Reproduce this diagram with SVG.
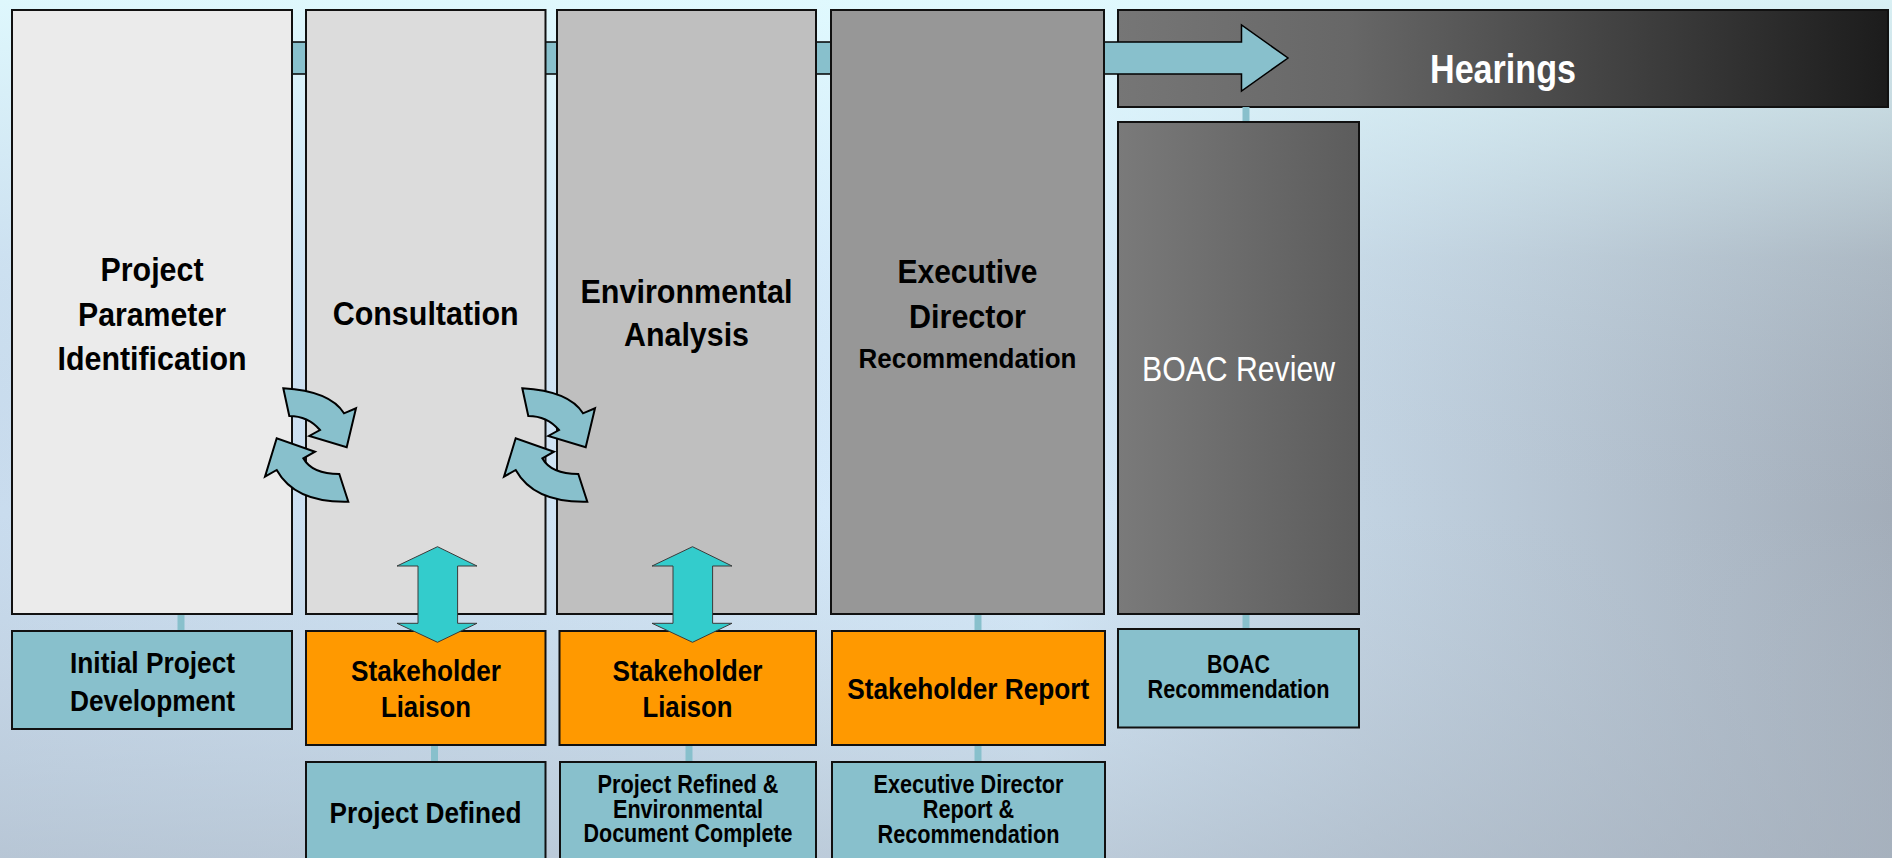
<svg xmlns="http://www.w3.org/2000/svg" width="1892" height="858" viewBox="0 0 1892 858">
<defs>
<linearGradient id="bgH" x1="0" y1="0" x2="1" y2="0">
<stop offset="0" stop-color="#c9dcee"/>
<stop offset="0.55" stop-color="#d6ebfb"/>
<stop offset="0.72" stop-color="#c2d3e2"/>
<stop offset="1" stop-color="#a3adb9"/>
</linearGradient>
<linearGradient id="bgV" x1="0" y1="0" x2="0" y2="1">
<stop offset="0" stop-color="#e2fcff" stop-opacity="0.85"/>
<stop offset="0.3" stop-color="#e2fcff" stop-opacity="0.15"/>
<stop offset="0.6" stop-color="#b5c2cf" stop-opacity="0"/>
<stop offset="1" stop-color="#a9b4c1" stop-opacity="0.55"/>
</linearGradient>
<linearGradient id="hear" x1="0" y1="0" x2="1" y2="0">
<stop offset="0" stop-color="#767676"/>
<stop offset="0.3" stop-color="#676767"/>
<stop offset="1" stop-color="#1c1c1c"/>
</linearGradient>
<linearGradient id="boacg" x1="0" y1="0" x2="1" y2="0">
<stop offset="0" stop-color="#7a7a7a"/>
<stop offset="1" stop-color="#5c5c5c"/>
</linearGradient>
<style>
.box{stroke:#111;stroke-width:2}
.teal{fill:#88c0cc}
.orange{fill:#ff9900}
.t{font-family:"Liberation Sans",Arial,sans-serif;font-weight:bold;text-anchor:middle;fill:#000}
.w{fill:#fff}
.n{font-weight:normal}
.conn{stroke:#88c0cc;stroke-width:7;fill:none}
.big{fill:#88c0cc;stroke:#000;stroke-width:1.5}
.dbl{fill:#33cccc;stroke:#3a3a3a;stroke-width:1}
.circ{fill:#88c0cc;stroke:#000;stroke-width:2;stroke-linejoin:miter}
</style>
<g id="circpair">
<path class="circ" d="M283.3,388.3 Q330,391 344,413.3 L356,408.3 L346.7,447.3 L309.3,436 L320,430 Q308,416 289.3,416 Z"/>
<path class="circ" d="M348.3,501.7 Q295,503 276.7,470 L265,476.7 L276.7,438.3 L315,451.7 L303.3,458.3 Q312,474 339.3,474 Z"/>
</g>
</defs>
<rect x="0" y="0" width="1892" height="858" fill="url(#bgH)"/>
<rect x="0" y="0" width="1892" height="858" fill="url(#bgV)"/>

<g id="hearings">
<rect class="box" x="1118" y="10" width="770" height="97" fill="url(#hear)"/>
<text class="t w" x="1503" y="83" font-size="40" textLength="146" lengthAdjust="spacingAndGlyphs">Hearings</text>
</g>

<g id="connectors">
<path class="big" d="M100,42 L1241.5,42 L1241.5,25 L1288,58 L1241.5,91 L1241.5,74 L100,74 Z"/>
<line class="conn" x1="181" y1="614" x2="181" y2="631"/>
<line class="conn" x1="434.5" y1="745" x2="434.5" y2="762"/>
<line class="conn" x1="689" y1="745" x2="689" y2="762"/>
<line class="conn" x1="978" y1="614" x2="978" y2="631"/>
<line class="conn" x1="978" y1="745" x2="978" y2="762"/>
<line class="conn" x1="1246" y1="107" x2="1246" y2="122"/>
<line class="conn" x1="1246" y1="614" x2="1246" y2="629"/>
</g>

<g id="ppi">
<rect class="box" x="12" y="10" width="280" height="604" fill="#ebebeb"/>
<text class="t" x="152" y="281" font-size="34" textLength="103" lengthAdjust="spacingAndGlyphs">Project</text>
<text class="t" x="152" y="325.5" font-size="34" textLength="148" lengthAdjust="spacingAndGlyphs">Parameter</text>
<text class="t" x="152" y="370" font-size="34" textLength="189" lengthAdjust="spacingAndGlyphs">Identification</text>
</g>
<g id="consultation">
<rect class="box" x="306" y="10" width="239.5" height="604" fill="#dcdcdc"/>
<text class="t" x="425.7" y="325" font-size="34" textLength="186" lengthAdjust="spacingAndGlyphs">Consultation</text>
</g>
<g id="env">
<rect class="box" x="557" y="10" width="259" height="604" fill="#bfbfbf"/>
<text class="t" x="686.5" y="303" font-size="34" textLength="212" lengthAdjust="spacingAndGlyphs">Environmental</text>
<text class="t" x="686.5" y="345.5" font-size="34" textLength="125" lengthAdjust="spacingAndGlyphs">Analysis</text>
</g>
<g id="edr">
<rect class="box" x="831" y="10" width="273" height="604" fill="#979797"/>
<text class="t" x="967.5" y="283.3" font-size="34" textLength="140" lengthAdjust="spacingAndGlyphs">Executive</text>
<text class="t" x="967.5" y="328" font-size="34" textLength="117" lengthAdjust="spacingAndGlyphs">Director</text>
<text class="t" x="967.5" y="368.3" font-size="27" textLength="218" lengthAdjust="spacingAndGlyphs">Recommendation</text>
</g>
<g id="boacreview">
<rect class="box" x="1118" y="122" width="241" height="492" fill="url(#boacg)"/>
<text class="t w n" x="1238.5" y="381" font-size="35" textLength="193" lengthAdjust="spacingAndGlyphs">BOAC Review</text>
</g>

<g id="ipd">
<rect class="box teal" x="12" y="631" width="280" height="98"/>
<text class="t" x="152.5" y="673.3" font-size="30" textLength="165" lengthAdjust="spacingAndGlyphs">Initial Project</text>
<text class="t" x="152.5" y="711" font-size="30" textLength="165" lengthAdjust="spacingAndGlyphs">Development</text>
</g>
<g id="sl1">
<rect class="box orange" x="306" y="631" width="239.5" height="114"/>
<text class="t" x="426" y="680.7" font-size="30" textLength="150" lengthAdjust="spacingAndGlyphs">Stakeholder</text>
<text class="t" x="426" y="717.3" font-size="30" textLength="90" lengthAdjust="spacingAndGlyphs">Liaison</text>
</g>
<g id="sl2">
<rect class="box orange" x="559.5" y="631" width="256.5" height="114"/>
<text class="t" x="687.5" y="680.7" font-size="30" textLength="150" lengthAdjust="spacingAndGlyphs">Stakeholder</text>
<text class="t" x="687.5" y="717.3" font-size="30" textLength="90" lengthAdjust="spacingAndGlyphs">Liaison</text>
</g>
<g id="sr">
<rect class="box orange" x="832" y="631" width="273" height="114"/>
<text class="t" x="968.3" y="699.3" font-size="30" textLength="242" lengthAdjust="spacingAndGlyphs">Stakeholder Report</text>
</g>
<g id="boacrec">
<rect class="box teal" x="1118" y="629" width="241" height="98.5"/>
<text class="t" x="1238.5" y="672.7" font-size="25" textLength="63" lengthAdjust="spacingAndGlyphs">BOAC</text>
<text class="t" x="1238.5" y="698.3" font-size="25" textLength="182" lengthAdjust="spacingAndGlyphs">Recommendation</text>
</g>
<g id="pd">
<rect class="box teal" x="306" y="762" width="239.5" height="110"/>
<text class="t" x="425.5" y="823.3" font-size="30" textLength="192" lengthAdjust="spacingAndGlyphs">Project Defined</text>
</g>
<g id="pr">
<rect class="box teal" x="560" y="762" width="256" height="110"/>
<text class="t" x="688" y="792.7" font-size="25" textLength="181" lengthAdjust="spacingAndGlyphs">Project Refined &amp;</text>
<text class="t" x="688" y="818.3" font-size="25" textLength="150" lengthAdjust="spacingAndGlyphs">Environmental</text>
<text class="t" x="688" y="841.7" font-size="25" textLength="209" lengthAdjust="spacingAndGlyphs">Document Complete</text>
</g>
<g id="edrr">
<rect class="box teal" x="832" y="762" width="273" height="110"/>
<text class="t" x="968.5" y="793.3" font-size="25" textLength="190" lengthAdjust="spacingAndGlyphs">Executive Director</text>
<text class="t" x="968.5" y="818.3" font-size="25" textLength="91.5" lengthAdjust="spacingAndGlyphs">Report &amp;</text>
<text class="t" x="968.5" y="843.3" font-size="25" textLength="182" lengthAdjust="spacingAndGlyphs">Recommendation</text>
</g>

<g id="connectors-over">
<path class="dbl" d="M437.5,546.7 L477,566 L457.6,566 L457.6,623.3 L477,623.3 L437.5,642.3 L397,623.3 L418,623.3 L418,566 L397,566 Z"/>
<path class="dbl" d="M692.5,546.7 L732,566 L712.6,566 L712.6,623.3 L732,623.3 L692.5,642.3 L652,623.3 L673,623.3 L673,566 L652,566 Z"/>
<use href="#circpair"/>
<use href="#circpair" transform="translate(239,0)"/>
</g>
</svg>
